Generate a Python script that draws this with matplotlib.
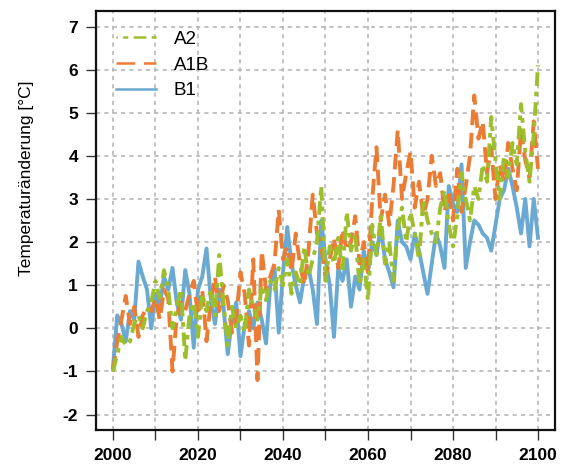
import matplotlib
matplotlib.use("Agg")
import matplotlib.pyplot as plt
from matplotlib.lines import Line2D

plt.rcParams['font.family'] = ['Liberation Sans', 'DejaVu Sans']

years = list(range(2000, 2101))

b1 = [-0.9, 0.3, 0.1, -0.3, 0.4, 0.2, 1.55, 1.2, 0.9, 0.0,
      0.8, 0.5, 1.2, 0.9, 1.4, 0.6, 0.2, 1.35, 0.8, -0.45,
      0.9, 1.2, 1.85, 0.7, 0.1, 0.9, 0.5, -0.6, 0.2, 0.6,
      -0.65, 0.1, 0.4, 0.0, 0.6, 0.2, -0.35, 1.0, 1.4, -0.1,
      1.3, 2.35, 1.5, 1.0, 0.6, 1.2, 1.4, 0.9, 0.1, 2.5,
      1.6, 1.0, -0.2, 1.4, 1.1, 1.6, 0.5, 1.2, 0.9, 1.8,
      1.3, 2.0, 1.7, 2.35, 1.6, 1.3, 0.95, 2.5, 2.0, 1.9,
      1.6, 2.2, 1.8, 1.3, 0.8, 1.5, 2.2, 1.9, 1.4, 3.3,
      2.9, 2.7, 3.8, 1.4, 2.0, 2.5, 2.4, 2.2, 2.1, 1.8,
      2.4, 3.0, 3.2, 3.7, 3.3, 2.8, 2.2, 3.0, 1.9, 3.0,
      2.1]

a1b = [-1.0, -0.3, 0.2, 0.75, 0.1, 0.5, -0.2, 0.3, 0.5, 0.4,
       0.7, 0.2, 0.9, 0.7, -1.0, 0.3, 0.6, 0.4, 0.8, 1.1,
       0.3, 0.9, -0.3, 0.6, 1.2, 0.4, 1.0, 0.65, -0.1, 0.25,
       1.3, 0.8, -0.4, 1.6, -1.2, 1.8, 0.9, 1.2, 1.5, 2.75,
       1.6, 1.9, 1.3, 2.2, 1.5, 1.0, 1.8, 3.1, 2.2, 1.9,
       1.2, 1.6, 2.1, 1.4, 2.3, 1.8, 2.0, 2.6, 1.5, 2.0,
       1.3, 3.0, 4.2, 2.5, 3.1, 2.4, 3.3, 4.6, 3.0, 3.6,
       4.1, 2.8, 3.4, 2.6, 3.0, 4.0, 3.3, 3.6, 2.7, 3.2,
       2.5, 3.7, 2.7, 3.3, 4.0, 5.4, 4.4, 4.8, 3.6, 4.2,
       3.0, 3.8, 3.4, 4.3, 3.7, 3.2, 4.6, 3.9, 3.5, 4.8,
       3.7]

a2 = [-1.0, -0.6, -0.2, -0.4, -0.3, 0.1, 0.3, 0.0, 0.4, 0.6,
      1.1, 0.7, 1.35, 0.9, 0.0, 0.5, 0.9, -0.75, 0.3, 0.6,
      -0.2, 0.8, 0.4, 0.9, 0.3, 1.7, 0.6, -0.4, 0.5, 0.0,
      0.3, -0.1, 0.9, 0.5, 0.2, 1.0, 0.65, 1.1, 0.9, 1.4,
      1.0, 1.6, 0.8, 1.3, 1.0, 1.9, 1.2, 1.6, 2.0, 3.3,
      1.1, 1.9, 1.5, 2.1, 1.3, 2.7, 1.8, 2.2, 1.0, 1.6,
      0.65, 2.4, 1.7, 2.6, 1.5, 2.0, 1.1, 2.3, 2.8, 2.0,
      2.7, 2.2, 1.6, 3.0, 2.5, 2.2, 2.0, 2.8, 3.2, 2.4,
      1.9, 2.6, 3.6, 3.0, 2.5, 3.3, 3.0, 3.8, 3.4, 4.9,
      3.9, 3.0, 4.0, 3.5, 4.3, 3.8, 5.2, 4.1, 3.4, 4.5,
      6.1]

series_labels = ["A2", "A1B", "B1"]
x_ticks = [2000, 2020, 2040, 2060, 2080, 2100]
y_ticks = list(range(-2, 8))

c_a2 = "#9cbf2b"
c_a1b = "#ec7b33"
c_b1 = "#6aa9d2"

fig = plt.figure(figsize=(5.63, 4.70), dpi=100)
ax = fig.add_axes([0.1705, 0.085, 0.8153, 0.8916])

ax.set_xlim(1996, 2104)
ax.set_ylim(-2.36, 7.36)

# grid
for gx in range(2000, 2101, 10):
    ax.axvline(gx, color="#b8b8b8", lw=1.2, ls=(0, (2.5, 2.5)), zorder=0)
for gy in y_ticks:
    ax.axhline(gy, color="#b8b8b8", lw=1.2, ls=(0, (2.5, 2.5)), zorder=0)

lw = 2.8
ax.plot(years, b1, color=c_b1, lw=lw, solid_joinstyle="round", zorder=2)
ax.plot(years, a1b, color=c_a1b, lw=lw, ls=(0, (4, 2)), zorder=3)
ax.plot(years, a2, color=c_a2, lw=lw, ls=(0, (3.5, 1.5, 1.2, 1.5)), zorder=4)

llw = 1.8
handles = [Line2D([], [], color=c_a2, lw=llw, ls=(4.5, (5.0, 2.2, 2.0, 2.2))),
           Line2D([], [], color=c_a1b, lw=llw, ls=(0, (7.5, 3.5))),
           Line2D([], [], color=c_b1, lw=llw)]
ax.legend(handles, series_labels, loc="upper left", frameon=False,
          fontsize=13.5, handlelength=2.15, labelspacing=0.46,
          handletextpad=0.95, borderaxespad=0.65, bbox_to_anchor=(0.0, 1.0))

ax.set_xticks(list(range(2000, 2101, 10)))
ax.set_xticklabels([str(v) if v in x_ticks else "" for v in range(2000, 2101, 10)])
ax.set_yticks(y_ticks)
ax.set_yticklabels([str(v) for v in y_ticks])
for lab in ax.get_xticklabels() + ax.get_yticklabels():
    lab.set_fontweight("bold")
    lab.set_fontsize(12.5)
ax.tick_params(direction="out", length=7, width=1.0, pad=6, color="#333333")

for sp in ax.spines.values():
    sp.set_linewidth(1.6)
    sp.set_color("#111111")

ax.set_ylabel("Temperaturänderung [°C]", fontsize=12.5)
ax.yaxis.set_label_coords(-0.135, 0.60)

fig.savefig("out.png", dpi=100)
